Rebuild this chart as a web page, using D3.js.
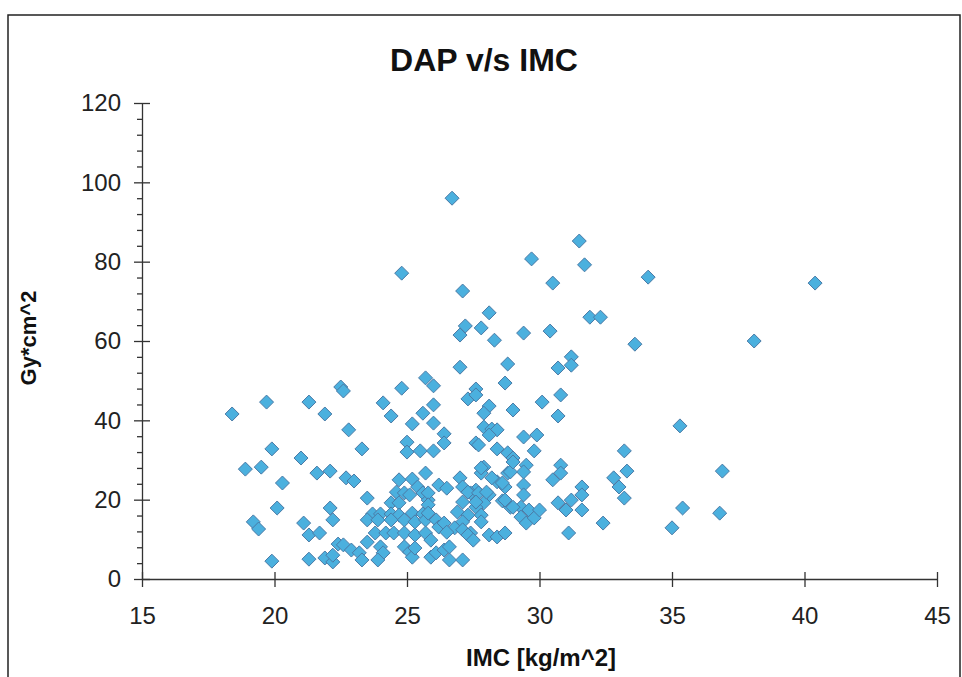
<!DOCTYPE html>
<meta charset="utf-8">
<style>

body {
  margin: 0;
  background: #fff;
  font-family: 'Liberation Sans', Arial, sans-serif;
}

svg {
  display: block;
}

.axis text {
  font-size: 24px;
  fill: #222;
  font-family: 'Liberation Sans', Arial, sans-serif;
}

.axis path, .axis line {
  stroke: #333;
  stroke-width: 1.3;
}

.head {
  font-size: 32px;
  font-weight: bold;
  fill: #111;
}

.label {
  font-size: 24px;
  font-weight: bold;
  fill: #111;
}

.dot {
  fill: #4bb0de;
  stroke: #4a7aa6;
  stroke-width: 1;
}

</style>
<body>
<div id='chart'></div>
<script src="https://cdn.jsdelivr.net/npm/d3@7"></script>
<script>

// IMC (kg/m^2) and DAP (Gy*cm^2), one entry per patient
var imc = [26.7, 29.7, 24.8, 30.5, 27.1, 31.5, 31.7, 34.1, 40.4, 28.1,
           31.9, 32.3, 27.2, 27.0, 27.8, 28.3, 29.4, 30.4, 33.6, 38.1,
           31.2, 31.2, 30.7, 27.0, 28.8, 25.7, 26.0, 28.7, 22.5, 24.8,
           27.6, 19.7, 21.3, 18.4, 21.9, 24.1, 24.4, 26.0, 25.6, 25.2,
           26.0, 27.3, 22.8, 26.4, 26.4, 25.0, 25.0, 25.5, 26.0, 23.3,
           27.6, 19.9, 21.0, 18.9, 19.5, 21.6, 22.1, 20.3, 20.1, 22.1,
           19.2, 19.4, 21.1, 22.2, 21.3, 21.7, 22.4, 19.9, 21.3, 21.9,
           22.2, 28.1, 27.9, 29.0, 30.1, 30.8, 30.7, 27.9, 28.2, 28.4,
           28.1, 29.4, 29.9, 27.7, 29.8, 28.4, 28.8, 29.0, 27.9, 27.8,
           29.5, 29.4, 28.8, 30.8, 30.8, 30.5, 32.8, 33.0, 27.6, 27.4,
           28.4, 28.7, 28.1, 27.9, 27.6, 29.4, 29.4, 31.6, 31.6, 31.2,
           30.7, 28.6, 28.9, 29.3, 29.6, 29.3, 29.5, 29.8, 30.0, 31.0,
           31.6, 32.4, 31.1, 28.1, 28.4, 28.7, 27.4, 27.8, 27.8, 35.3,
           33.2, 33.3, 36.9, 33.2, 35.4, 36.8, 35.0, 22.6, 27.6, 22.7,
           23.0, 24.7, 25.2, 25.7, 25.4, 24.6, 24.9, 25.1, 25.6, 25.8,
           23.5, 24.4, 24.7, 23.7, 24.0, 24.4, 24.7, 25.2, 25.6, 23.5,
           23.9, 24.4, 24.9, 25.3, 25.7, 23.8, 24.2, 24.5, 24.9, 25.3,
           25.7, 25.9, 23.5, 24.0, 24.1, 23.9, 22.6, 22.9, 23.2, 23.3,
           22.2, 24.9, 25.1, 25.2, 25.3, 25.9, 26.2, 26.5, 27.0, 27.1,
           27.8, 28.2, 28.6, 28.9, 29.0, 27.3, 27.7, 28.0, 25.8, 25.8,
           27.1, 27.6, 28.7, 29.0, 25.8, 26.1, 26.2, 26.9, 27.3, 27.1,
           26.4, 26.8, 27.1, 27.3, 27.5, 26.1, 26.4, 26.6, 26.6, 27.1,
           26.5];

var dap = [96.0, 80.7, 77.1, 74.6, 72.6, 85.2, 79.2, 76.1, 74.6, 67.1,
           66.0, 66.0, 63.8, 61.5, 63.3, 60.2, 62.0, 62.5, 59.2, 60.0,
           56.0, 53.9, 53.2, 53.4, 54.2, 50.7, 48.7, 49.4, 48.4, 48.1,
           47.9, 44.6, 44.6, 41.6, 41.6, 44.4, 41.1, 43.9, 41.8, 39.1,
           39.3, 45.4, 37.6, 36.6, 34.3, 34.5, 32.0, 32.3, 32.3, 32.8,
           34.3, 32.8, 30.5, 27.7, 28.2, 26.7, 27.2, 24.2, 17.9, 17.9,
           14.4, 12.6, 14.1, 14.9, 11.1, 11.6, 8.8, 4.5, 5.0, 5.3,
           4.3, 43.6, 41.8, 42.6, 44.6, 46.4, 41.1, 38.3, 37.8, 37.6,
           36.3, 35.8, 36.3, 33.8, 32.3, 32.8, 31.8, 30.5, 28.2, 26.7,
           28.7, 27.0, 26.7, 28.7, 26.7, 25.0, 25.5, 23.2, 22.4, 21.7,
           24.5, 23.2, 21.2, 19.2, 18.1, 23.7, 21.2, 23.2, 21.2, 19.9,
           19.2, 19.7, 18.1, 18.1, 17.4, 15.6, 14.1, 15.4, 17.4, 17.4,
           17.4, 14.1, 11.6, 11.1, 10.6, 11.6, 11.6, 16.1, 14.4, 38.6,
           32.3, 27.2, 27.2, 20.4, 17.9, 16.6, 12.9, 47.4, 46.4, 25.5,
           24.7, 25.0, 25.2, 26.7, 23.2, 21.9, 21.7, 21.2, 21.7, 19.9,
           20.4, 19.2, 19.2, 16.4, 16.4, 16.4, 16.1, 16.6, 16.4, 14.9,
           14.9, 14.9, 14.9, 14.4, 14.9, 11.6, 11.6, 11.6, 11.6, 11.1,
           11.6, 9.8, 9.3, 8.1, 6.6, 4.8, 8.6, 7.3, 6.6, 4.8,
           6.0, 8.1, 6.8, 5.5, 7.8, 5.5, 23.7, 22.9, 25.5, 23.2,
           28.0, 25.5, 24.2, 27.0, 29.5, 21.9, 21.7, 21.9, 21.7, 18.7,
           19.4, 19.4, 19.9, 18.1, 16.6, 14.9, 13.1, 16.9, 16.1, 14.4,
           14.1, 12.9, 12.4, 11.1, 9.8, 6.6, 7.3, 8.1, 4.8, 4.8,
           11.8];

var xTicks = [15, 20, 25, 30, 35, 40, 45];
var yMajor = [0, 20, 40, 60, 80, 100, 120];

var svg = d3.select('#chart')
            .append('svg')
            .attr('width', 962)
            .attr('height', 677)

// frame of the scanned chart
svg.append('rect')
   .attr('x', 8)
   .attr('y', 15)
   .attr('width', 952)
   .attr('height', 680)
   .attr('fill', 'none')
   .attr('stroke', '#222')
   .attr('stroke-width', 1.5)

var x = d3.scaleLinear().domain([15, 45]).range([142, 937])
var y = d3.scaleLinear().domain([0, 120]).range([579, 103])

var xAxis = svg.append('g')
   .attr('class', 'axis')
   .attr('transform', 'translate(0,' + y(0) + ')')
   .call(d3.axisBottom(x)
           .tickValues(xTicks)
           .tickSizeInner(8)
           .tickSizeOuter(0)
           .tickPadding(20))
xAxis.selectAll('.tick line').attr('y1', -7)

var yAxis = svg.append('g')
   .attr('class', 'axis')
   .attr('transform', 'translate(' + x(15) + ',0)')
   .call(d3.axisLeft(y)
           .tickValues(d3.range(0, 121, 4))
           .tickSizeOuter(0)
           .tickSizeInner(8)
           .tickPadding(13)
           .tickFormat(function(d){ return yMajor.indexOf(d) >= 0 ? d : '' }))
yAxis.selectAll('.tick line')
   .attr('x1', function(d){ return yMajor.indexOf(d) >= 0 ? 8 : 0 })
   .attr('x2', function(d){ return yMajor.indexOf(d) >= 0 ? -8 : -5 })

// diamonds
var diamond = 'M0,-7L7,0L0,7L-7,0Z'
svg.append('g')
   .selectAll('path')
   .data(d3.range(imc.length))
   .enter()
   .append('path')
   .attr('class', 'dot')
   .attr('d', diamond)
   .attr('transform', function(i){ return 'translate(' + x(imc[i]) + ',' + y(dap[i]) + ')' })

svg.append('text')
   .attr('class', 'head')
   .attr('x', 484)
   .attr('y', 71)
   .attr('text-anchor', 'middle')
   .text('DAP v/s IMC')

svg.append('text')
   .attr('class', 'label')
   .attr('x', 541)
   .attr('y', 666)
   .attr('text-anchor', 'middle')
   .text('IMC [kg/m^2]')

svg.append('text')
   .attr('class', 'label')
   .attr('transform', 'translate(36,338) rotate(-90)')
   .attr('text-anchor', 'middle')
   .style('font-size', '22px')
   .text('Gy*cm^2')

</script>
</body>
